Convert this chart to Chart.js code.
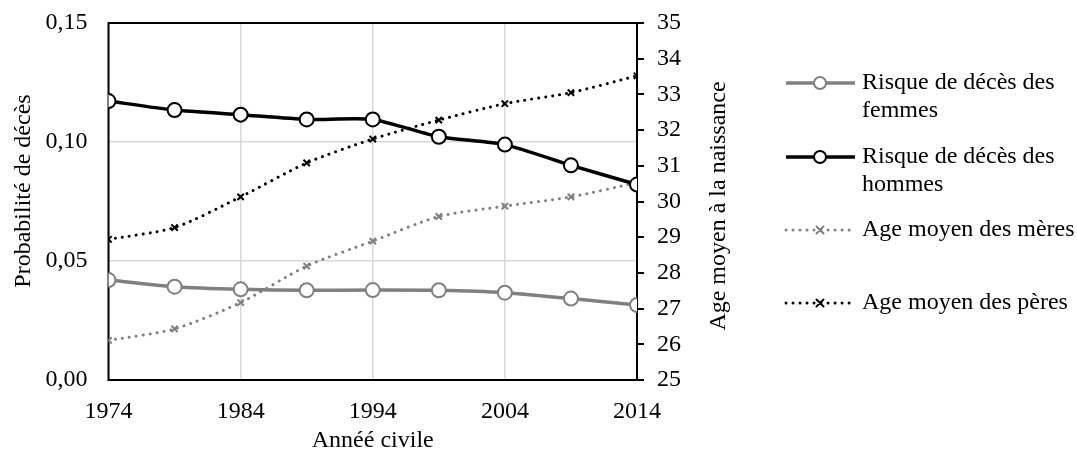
<!DOCTYPE html>
<html>
<head>
<meta charset="utf-8">
<script src="https://cdn.jsdelivr.net/npm/chart.js@4"></script>
<style>
  html, body { margin: 0; padding: 0; background: #fff; }
  #wrap { width: 1077px; height: 451px; }
</style>
</head>
<body>
<div id="wrap"><canvas id="myChart" width="1077" height="451"></canvas></div>
<script>
// data
const years = [1974, 1979, 1984, 1989, 1994, 1999, 2004, 2009, 2014]
const risqueFemmes = [0.0420, 0.0392, 0.0381, 0.0377, 0.0378, 0.0377, 0.0367, 0.0342, 0.0315]
const risqueHommes = [0.1172, 0.1134, 0.1115, 0.1095, 0.1095, 0.1022, 0.0989, 0.0902, 0.0821]
const ageMeres = [26.11, 26.43, 27.17, 28.19, 28.89, 29.58, 29.87, 30.13, 30.53]
const agePeres = [28.94, 29.27, 30.13, 31.08, 31.75, 32.28, 32.74, 33.05, 33.52]

const xTitle = 'Annéé civile'
const yTitle = 'Probabilité de décès'
const y1Title = 'Age moyen à la naissance'

const FONT = 'Liberation Serif, Times New Roman, serif'
const FS = 24
const GREY = '#808080'

const pts = (vals) => years.map((yr, i) => ({ x: yr, y: vals[i] }))

// frame, vertical titles and the wrapped legend
const extras = {
  id: 'extras',
  beforeDatasetsDraw(chart) {
    const { ctx, chartArea: a } = chart
    ctx.save()
    ctx.strokeStyle = '#000'
    ctx.lineWidth = 2
    ctx.strokeRect(a.left, a.top, a.right - a.left, a.bottom - a.top)
    ctx.restore()
  },
  afterDraw(chart) {
    const { ctx } = chart
    ctx.save()
    ctx.font = FS + 'px ' + FONT
    ctx.fillStyle = '#000'
    ctx.textAlign = 'center'
    ctx.textBaseline = 'middle'

    ctx.save()
    ctx.translate(24, 191)
    ctx.rotate(-Math.PI / 2)
    ctx.fillText(yTitle, 0, 0)
    ctx.restore()

    ctx.save()
    ctx.translate(719, 206)
    ctx.rotate(-Math.PI / 2)
    ctx.fillText(y1Title, 0, 0)
    ctx.restore()

    // legend
    const rows = [83, 157, 230, 303]
    ctx.textAlign = 'left'
    chart.data.datasets.forEach((ds, i) => {
      const y = rows[i]
      ctx.save()
      ctx.strokeStyle = ds.borderColor
      ctx.lineWidth = ds.borderWidth
      ctx.lineCap = ds.borderDash ? 'round' : 'butt'
      ctx.setLineDash(ds.borderDash || [])
      ctx.beginPath()
      ctx.moveTo(786, y)
      ctx.lineTo(855, y)
      ctx.stroke()
      ctx.setLineDash([])
      ctx.lineWidth = ds.pointBorderWidth
      if (ds.pointStyle === 'circle') {
        ctx.fillStyle = '#fff'
        ctx.beginPath()
        ctx.arc(820, y, 6, 0, Math.PI * 2)
        ctx.fill()
        ctx.stroke()
      } else {
        const r = 3.5
        ctx.beginPath()
        ctx.moveTo(820 - r, y - r); ctx.lineTo(820 + r, y + r)
        ctx.moveTo(820 - r, y + r); ctx.lineTo(820 + r, y - r)
        ctx.stroke()
      }
      ctx.restore()

      // wrap label
      const words = ds.label.split(' ')
      const lines = []
      let cur = ''
      words.forEach(w => {
        const test = cur ? cur + ' ' + w : w
        if (ctx.measureText(test).width > 215 && cur) { lines.push(cur); cur = w } else { cur = test }
      })
      lines.push(cur)
      lines.forEach((ln, k) => ctx.fillText(ln, 862, y + k * 28))
    })
    ctx.restore()
  }
}

const fitV = (w) => (s) => { s.width = w; s.paddingTop = 0; s.paddingBottom = 0 }

const ctx = document.getElementById('myChart')
const myChart = new Chart(ctx, {
  type: 'line',
  data: {
    datasets: [{
      label: 'Risque de décès des femmes',
      data: pts(risqueFemmes),
      yAxisID: 'y',
      borderColor: GREY,
      borderWidth: 3.5,
      pointStyle: 'circle',
      pointRadius: 7,
      pointBorderWidth: 2,
      pointBorderColor: GREY,
      pointBackgroundColor: '#fff',
      tension: 0.2
    }, {
      label: 'Risque de décès des hommes',
      data: pts(risqueHommes),
      yAxisID: 'y',
      borderColor: '#000',
      borderWidth: 3.5,
      pointStyle: 'circle',
      pointRadius: 7,
      pointBorderWidth: 2,
      pointBorderColor: '#000',
      pointBackgroundColor: '#fff',
      tension: 0.2
    }, {
      label: 'Age moyen des mères',
      data: pts(ageMeres),
      yAxisID: 'y1',
      borderColor: GREY,
      borderWidth: 3,
      borderDash: [0.01, 7],
      borderCapStyle: 'round',
      pointStyle: 'crossRot',
      pointRadius: 4.5,
      pointBorderWidth: 2,
      pointBorderColor: GREY,
      tension: 0.25
    }, {
      label: 'Age moyen des pères',
      data: pts(agePeres),
      yAxisID: 'y1',
      borderColor: '#000',
      borderWidth: 3,
      borderDash: [0.01, 7],
      borderCapStyle: 'round',
      pointStyle: 'crossRot',
      pointRadius: 4.5,
      pointBorderWidth: 2,
      pointBorderColor: '#000',
      tension: 0.25
    }]
  },
  options: {
    responsive: false,
    animation: false,
    layout: { padding: { left: 0, right: 340, top: 23, bottom: 0 } },
    plugins: { legend: { display: false }, tooltip: { enabled: false } },
    scales: {
      x: {
        type: 'linear',
        min: 1974,
        max: 2014,
        afterFit: (s) => { s.height = 71 },
        ticks: { stepSize: 10, color: '#000', font: { family: FONT, size: FS }, padding: 17, maxRotation: 0, callback: (v) => String(v) },
        grid: { color: '#d9d9d9', lineWidth: 1.5, drawTicks: false },
        border: { display: false },
        title: { display: true, text: xTitle, color: '#000', font: { family: FONT, size: FS, lineHeight: 1 }, padding: { top: 0, bottom: -2 } }
      },
      y: {
        position: 'left',
        min: 0,
        max: 0.15,
        afterFit: fitV(108.5),
        ticks: { stepSize: 0.05, color: '#000', font: { family: FONT, size: FS }, padding: 21, callback: (v) => v.toFixed(2).replace('.', ',') },
        grid: { color: '#d9d9d9', lineWidth: 1.5, drawTicks: false },
        border: { display: false }
      },
      y1: {
        position: 'right',
        min: 25,
        max: 35,
        afterFit: fitV(100),
        ticks: { stepSize: 1, color: '#000', font: { family: FONT, size: FS }, padding: 13 },
        grid: { drawOnChartArea: false, color: '#000', lineWidth: 2, tickLength: 7 },
        border: { display: false }
      }
    }
  },
  plugins: [extras]
})
</script>
</body>
</html>
